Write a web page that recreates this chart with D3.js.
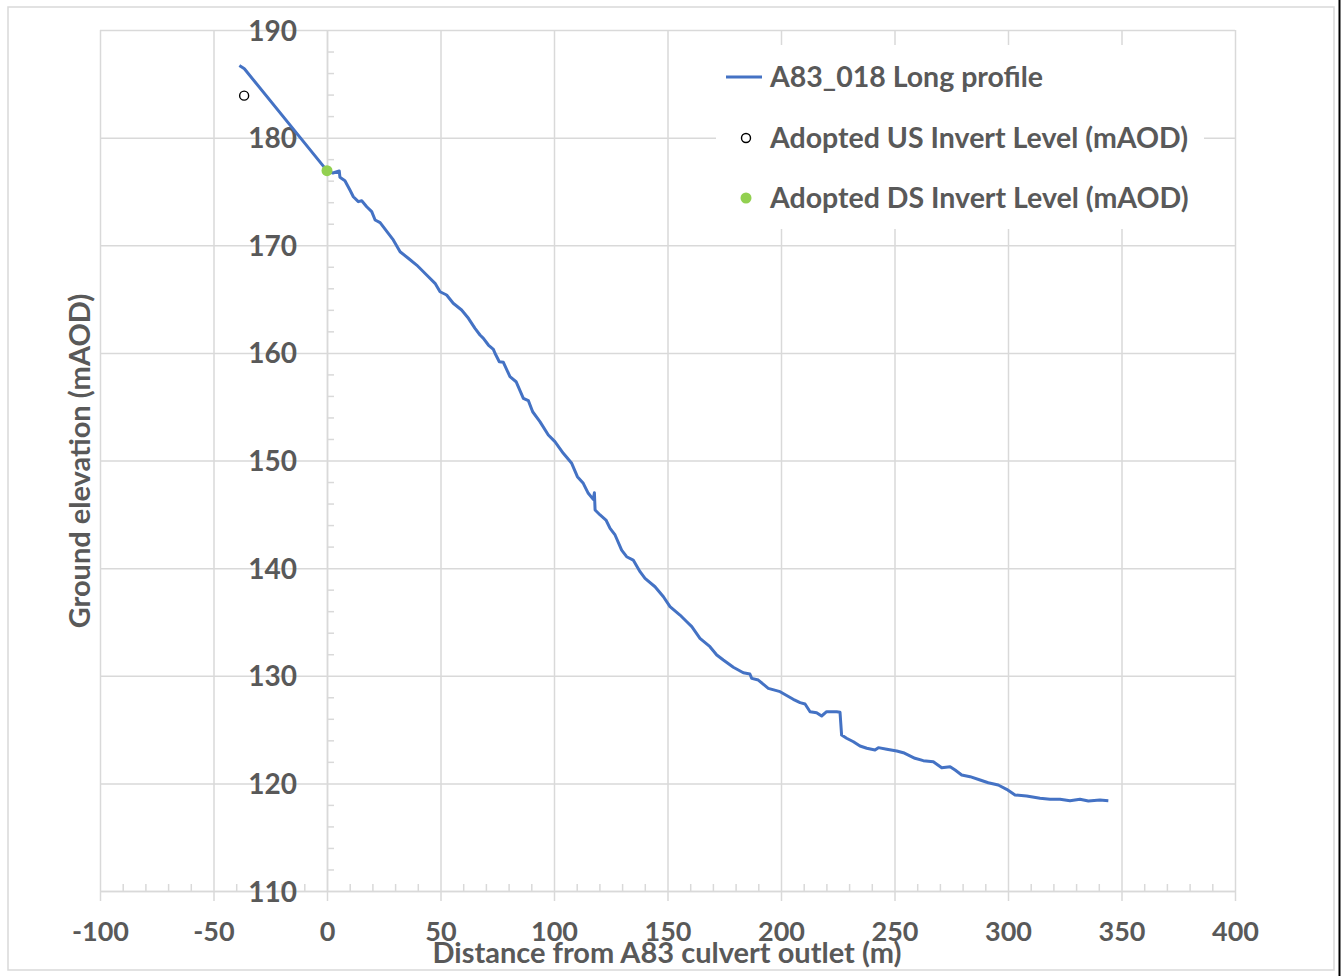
<!DOCTYPE html>
<html>
<head>
<meta charset="utf-8">
<script src="https://cdn.jsdelivr.net/npm/d3@7"></script>
<style>
  html, body { margin: 0; padding: 0; background: #fff; }
  svg { display: block; }
  text { font-family: Lato, "Open Sans", sans-serif; font-weight: bold; fill: #595959; }
</style>
</head>
<body>
<svg id="chart" width="1343" height="976"></svg>
<script>
// Long profile: distance from culvert outlet (m) and ground elevation (mAOD)
const profileDistance = [
  -38.6, -36.4, 0, 2.6, 5.4, 5.7, 7.9, 10.1, 11.6, 13.8, 15.3, 17.5, 19.7, 21.2, 23.4,
  27.0, 29.2, 32.2, 35.8, 39.5, 43.9, 47.6, 49.8, 52.7, 55.6, 59.3, 62.3, 65.2, 67.4,
  68.9, 71.1, 73.3, 74.0, 75.9, 77.7, 80.6, 83.3, 86.5, 88.7, 90.6, 93.8, 97.5, 100.4,
  104.1, 107.8, 110.3, 112.9, 115.1, 117.3, 117.8, 118.1, 120.3, 122.9, 124.7, 126.9,
  129.8, 132.0, 134.9, 137.9, 140.1, 144.5, 148.2, 151.1, 155.5, 158.5, 160.7, 164.3,
  168.7, 171.7, 174.6, 179.0, 183.4, 186.3, 187.1, 190.0, 194.4, 199.6, 205.4, 208.4,
  210.6, 212.8, 215.7, 217.9, 220.1, 224.5, 226.0, 226.7, 228.9, 231.9, 234.8, 237.8,
  241.4, 242.9, 246.6, 251.0, 253.9, 259.0, 262.7, 267.1, 270.8, 274.5, 276.7, 279.6,
  283.3, 287.7, 291.3, 295.7, 299.4, 303.1, 308.2, 314.1, 318.5, 322.9, 327.3, 331.7,
  335.4, 340.5, 344.2
];
const profileElevation = [
  186.7, 186.4, 176.93, 176.71, 176.9, 176.31, 176.0, 175.13, 174.51, 174.05, 174.14,
  173.58, 173.12, 172.35, 172.1, 171.11, 170.49, 169.4, 168.79, 168.16, 167.24, 166.46,
  165.68, 165.38, 164.61, 163.98, 163.21, 162.28, 161.66, 161.35, 160.73, 160.33, 159.96,
  159.18, 159.12, 157.79, 157.32, 155.78, 155.56, 154.53, 153.61, 152.37, 151.75, 150.67,
  149.74, 148.5, 147.88, 146.95, 146.39, 147.0, 145.4, 144.94, 144.47, 143.7, 143.08,
  141.68, 141.06, 140.75, 139.67, 139.05, 138.27, 137.34, 136.42, 135.64, 135.02, 134.56,
  133.48, 132.7, 131.93, 131.46, 130.79, 130.28, 130.16, 129.76, 129.6, 128.83, 128.52,
  127.81, 127.5, 127.38, 126.66, 126.57, 126.26, 126.66, 126.66, 126.6, 124.49, 124.19,
  123.87, 123.47, 123.26, 123.1, 123.32, 123.17, 123.01, 122.85, 122.33, 122.11, 122.01,
  121.45, 121.55, 121.24, 120.78, 120.62, 120.31, 120.06, 119.85, 119.45, 118.92, 118.83,
  118.61, 118.52, 118.52, 118.39, 118.52, 118.36, 118.45, 118.39
];

// Adopted invert levels
const usInvert = [{ distance: -36.5, level: 183.9 }];
const dsInvert = [{ distance: 0, level: 176.93 }];

// Axis ticks and labels
const xTicks = [-100, -50, 0, 50, 100, 150, 200, 250, 300, 350, 400];
const yTicks = [110, 120, 130, 140, 150, 160, 170, 180, 190];
const seriesNames = [
  "A83_018 Long profile",
  "Adopted US Invert Level (mAOD)",
  "Adopted DS Invert Level (mAOD)"
];
const xTitle = "Distance from A83 culvert outlet (m)";
const yTitle = "Ground elevation (mAOD)";

const svg = d3.select("#chart");
const W = 1343, H = 976;
const plot = { left: 100, right: 1235, top: 30, bottom: 891 };
const grid = "#d9d9d9";
const textColor = "#595959";
const lineColor = "#4472c4";
const plainNumber = d => String(d);

// outer chart frame
svg.append("rect").attr("x", 8).attr("y", 7).attr("width", 1326).attr("height", 963)
  .attr("fill", "#fff").attr("stroke", grid).attr("stroke-width", 1.5);
svg.append("line").attr("x1", 1339.5).attr("x2", 1339.5).attr("y1", 0).attr("y2", H)
  .attr("stroke", "#000").attr("stroke-width", 2);

const x = d3.scaleLinear().domain([-100, 400]).range([plot.left, plot.right]);
const y = d3.scaleLinear().domain([110, 190]).range([plot.bottom, plot.top]);

// gridlines
const gGrid = svg.append("g");
gGrid.append("g").attr("transform", `translate(0,${plot.bottom})`)
  .call(d3.axisBottom(x).tickValues(xTicks).tickSize(-(plot.bottom - plot.top)).tickFormat(""))
  .call(g => g.select(".domain").remove());
gGrid.append("g").attr("transform", `translate(${plot.left},0)`)
  .call(d3.axisLeft(y).tickValues(yTicks).tickSize(-(plot.right - plot.left)).tickFormat(""))
  .call(g => g.select(".domain").remove());
gGrid.selectAll("line").attr("stroke", grid).attr("stroke-width", 1.5);

// x axis: major ticks hang below, minor ticks point up
const xMinor = d3.range(-90, 400, 10).filter(v => v % 50 !== 0);
const gx = svg.append("g").attr("transform", `translate(0,${y(110)})`);
gx.call(d3.axisBottom(x).tickValues(xTicks).tickSize(10).tickSizeOuter(0).tickFormat(plainNumber));
gx.append("g").call(d3.axisTop(x).tickValues(xMinor).tickSize(7).tickFormat(""))
  .call(g => g.select(".domain").remove());
gx.selectAll("line").attr("stroke", grid).attr("stroke-width", 1.5);
gx.selectAll(".domain").attr("stroke", grid).attr("stroke-width", 1.5);
gx.selectAll(".tick text").attr("y", 41).attr("dy", "0.35em")
  .attr("font-size", 27).attr("fill", textColor)
  .style("font-family", "Lato, sans-serif").style("font-weight", "bold");

// y axis crosses at distance 0, minor ticks point right
const yMinor = d3.range(112, 190, 2).filter(v => v % 10 !== 0);
const gy = svg.append("g").attr("transform", `translate(${x(0)},0)`);
gy.call(d3.axisLeft(y).tickValues(yTicks).tickSize(0).tickPadding(30).tickSizeOuter(0).tickFormat(plainNumber));
gy.append("g").call(d3.axisRight(y).tickValues(yMinor).tickSize(7).tickFormat(""))
  .call(g => g.select(".domain").remove());
gy.selectAll("line").attr("stroke", grid).attr("stroke-width", 1.5);
gy.selectAll(".domain").attr("stroke", grid).attr("stroke-width", 1.5);
gy.selectAll(".tick text").attr("dy", "0.36em")
  .attr("font-size", 28).attr("fill", textColor)
  .style("font-family", "Lato, sans-serif").style("font-weight", "bold");

// axis titles
svg.append("text").attr("x", 667).attr("y", 953).attr("dy", "0.35em")
  .attr("text-anchor", "middle").attr("font-size", 29).text(xTitle);
svg.append("text").attr("transform", "translate(80,461) rotate(-90)").attr("dy", "0.35em")
  .attr("text-anchor", "middle").attr("font-size", 29).text(yTitle);

// profile line
const profile = profileDistance.map((d, i) => ({ distance: d, level: profileElevation[i] }));
svg.append("path").datum(profile)
  .attr("fill", "none").attr("stroke", lineColor).attr("stroke-width", 3)
  .attr("stroke-linejoin", "round")
  .attr("d", d3.line().x(d => x(d.distance)).y(d => y(d.level)));

// invert markers
svg.selectAll(".us").data(usInvert).join("circle")
  .attr("cx", d => x(d.distance)).attr("cy", d => y(d.level)).attr("r", 4.5)
  .attr("fill", "#fff").attr("stroke", "#000").attr("stroke-width", 1.4);
svg.selectAll(".ds").data(dsInvert).join("circle")
  .attr("cx", d => x(d.distance)).attr("cy", d => y(d.level)).attr("r", 5.5)
  .attr("fill", "#92d050");

// legend
const lg = svg.append("g");
lg.append("rect").attr("x", 716).attr("y", 45).attr("width", 488).attr("height", 184).attr("fill", "#fff");
const rows = [77, 138, 198];
lg.append("line").attr("x1", 726).attr("x2", 762).attr("y1", rows[0]).attr("y2", rows[0])
  .attr("stroke", lineColor).attr("stroke-width", 3);
lg.append("circle").attr("cx", 746).attr("cy", rows[1]).attr("r", 4.5)
  .attr("fill", "#fff").attr("stroke", "#000").attr("stroke-width", 1.4);
lg.append("circle").attr("cx", 746).attr("cy", rows[2]).attr("r", 5.5).attr("fill", "#92d050");
lg.selectAll("text.name").data(seriesNames).join("text").attr("class", "name")
  .attr("x", 770).attr("y", (d, i) => rows[i]).attr("dy", "0.35em")
  .attr("font-size", 28.5).text(d => d);
</script>
</body>
</html>
